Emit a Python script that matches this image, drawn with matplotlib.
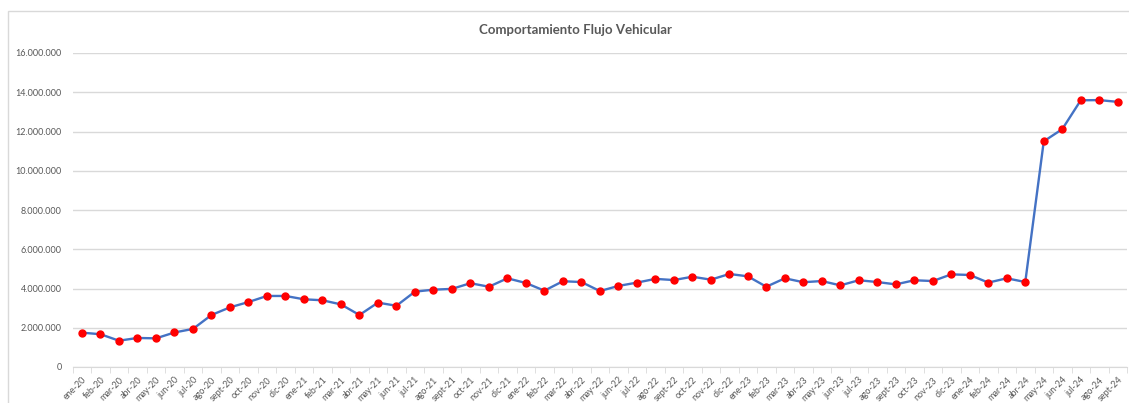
import matplotlib.pyplot as plt
import matplotlib.ticker as mticker
import matplotlib.patches as patches
import numpy as np

# Monthly labels, ene-20 .. sept-24
meses = ["ene", "feb", "mar", "abr", "may", "jun", "jul", "ago", "sept", "oct", "nov", "dic"]
labels = [f"{m}-{y}" for y in range(20, 25) for m in meses][:57]

flujo = [1750000, 1670000, 1340000, 1480000, 1460000, 1760000, 1940000, 2650000, 3040000, 3310000,
         3620000, 3620000, 3450000, 3400000, 3190000, 2650000, 3280000, 3120000, 3840000, 3940000,
         3980000, 4270000, 4090000, 4520000, 4280000, 3890000, 4370000, 4330000, 3870000, 4130000,
         4300000, 4490000, 4430000, 4600000, 4450000, 4740000, 4620000, 4090000, 4520000, 4320000,
         4380000, 4160000, 4420000, 4330000, 4210000, 4420000, 4380000, 4720000, 4690000, 4300000,
         4520000, 4330000, 11500000, 12120000, 13590000, 13600000, 13510000]

plt.rcParams['font.family'] = ['Lato', 'DejaVu Sans']
gris = '#595959'

fig = plt.figure(figsize=(11.29, 4.03), dpi=100, facecolor='white')
# chart frame (Excel style)
fig.patches.append(patches.Rectangle((8 / 1129, -0.05), 1.2, 1 - 11 / 403 + 0.05, transform=fig.transFigure,
                                     fill=False, edgecolor='#D9D9D9', lw=1))

ax = fig.add_axes([72.75 / 1129, 1 - 367 / 403, (1127 - 72.75) / 1129, (367 - 53) / 403])
x = np.arange(len(flujo))
ax.plot(x, flujo, color='#4472C4', lw=1.7, marker='o', markersize=5,
        markerfacecolor='#FF0000', markeredgecolor='#FF0000', zorder=3)

ax.set_xlim(-0.5, len(flujo) - 0.5)
ax.set_ylim(0, 16000000)
ax.yaxis.set_major_locator(mticker.MultipleLocator(2000000))
ax.yaxis.set_major_formatter(mticker.FuncFormatter(lambda v, p: f"{int(v):,}".replace(",", ".")))
ax.grid(axis='y', color='#D9D9D9', lw=1)
ax.set_axisbelow(True)
for s in ['top', 'right', 'left']:
    ax.spines[s].set_visible(False)
ax.spines['bottom'].set_color('#D9D9D9')

ax.set_xticks(x)
ax.set_xticklabels(labels, rotation=45, ha='right', rotation_mode='anchor', fontsize=6.5, color=gris)
ax.set_xticks(np.arange(-0.5, len(flujo), 1), minor=True)
ax.tick_params(axis='x', which='major', length=0, pad=6)
ax.tick_params(axis='x', which='minor', length=4, color='#D9D9D9')
ax.tick_params(axis='y', length=0, labelsize=6.5, labelcolor=gris, pad=8)

fig.text(575 / 1129, 1 - 30 / 403, "Comportamiento Flujo Vehicular", ha='center', va='center',
         fontsize=9.5, fontweight='bold', color=gris)

fig.savefig('out.png', dpi=100, facecolor='white')
